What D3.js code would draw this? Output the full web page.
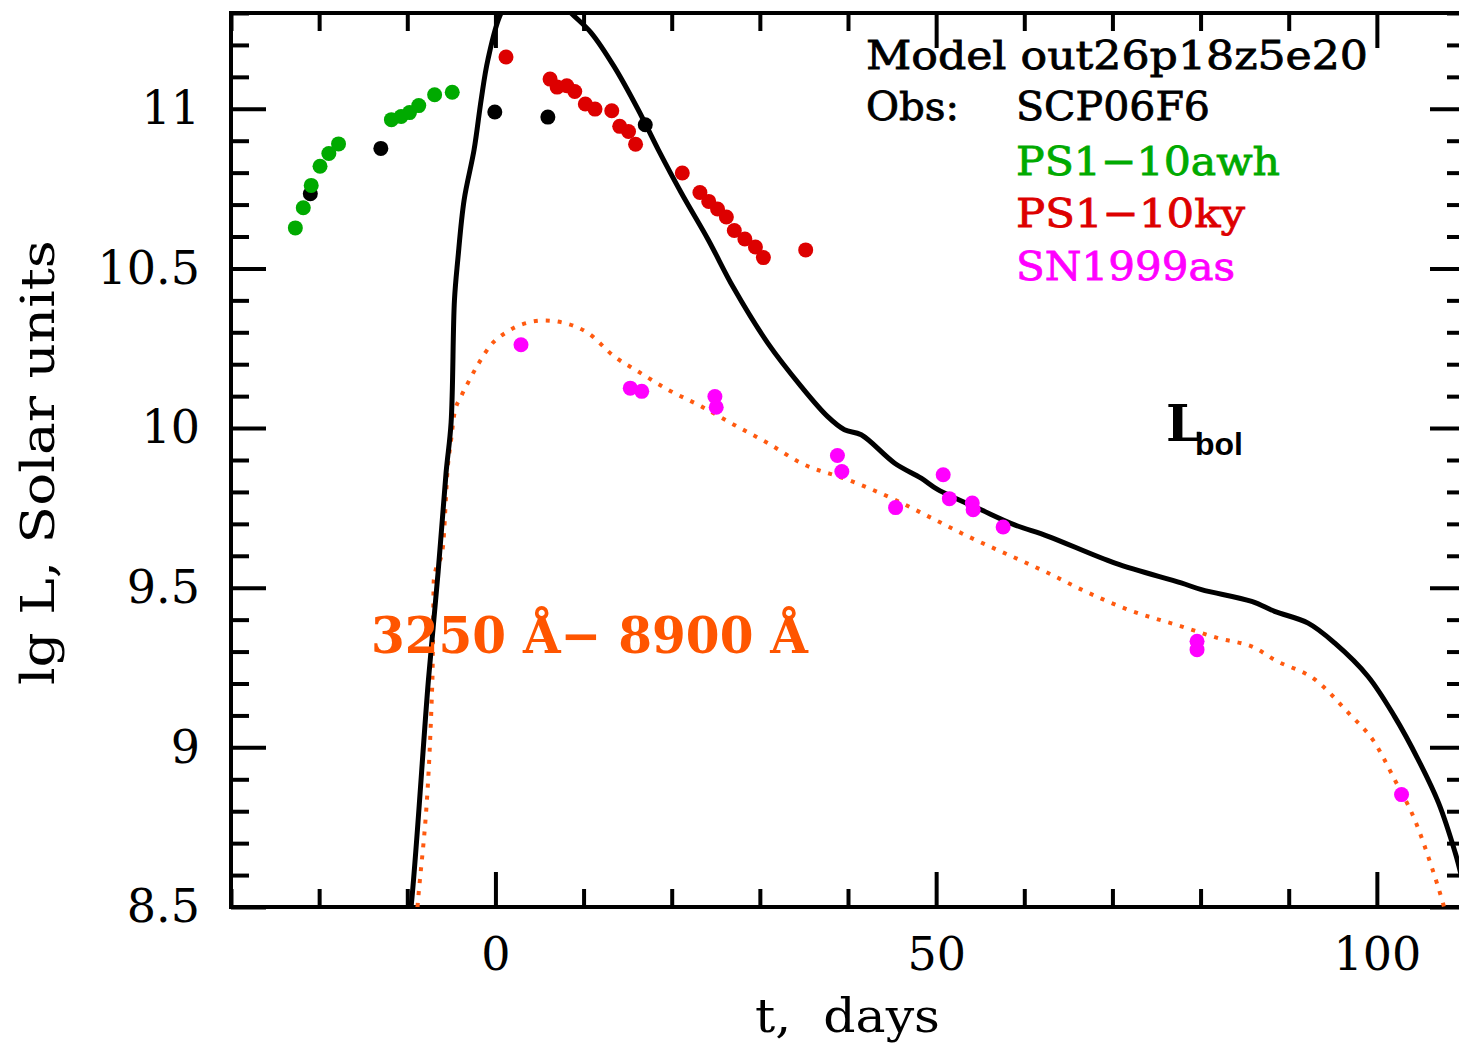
<!DOCTYPE html>
<html>
<head>
<meta charset="utf-8">
<script src="https://cdn.jsdelivr.net/npm/d3@7"></script>
<style>
  body { margin: 0; background: #fff; }
  svg { display: block; }
</style>
</head>
<body>
<div id="chart"></div>
<script>
// model Lbol (solid black)
var lbolT = [-10.5, -9.57, -7.6, -6.5, -5.6, -5.03, -4.65, -4.27, -3.55, -2.42, -1.62, -0.86, 0.65, 2.5, 4.5, 6.5,
  8.58, 10.86, 13.47, 16.2, 18.47, 21.08, 24.14, 27.0, 30.9, 34.7, 37.7, 39.6, 41.5, 45.3, 48.3, 50.2, 55.1, 58.9,
  62.7, 70.3, 77.8, 80.1, 85.8, 88.4, 92.2, 95.2, 99.0, 102.0, 104.7, 107.0, 108.9, 109.5, 111];
var lbolL = [8.3, 8.50, 9.212, 9.55, 9.86, 10.017, 10.40, 10.527, 10.715, 10.872, 11.028, 11.153, 11.30, 11.37, 11.39, 11.36,
  11.30, 11.238, 11.132, 10.997, 10.872, 10.737, 10.59, 10.44, 10.266, 10.13, 10.036, 9.995, 9.979, 9.89, 9.843, 9.807, 9.744, 9.697,
  9.661, 9.577, 9.515, 9.494, 9.457, 9.426, 9.389, 9.327, 9.222, 9.097, 8.961, 8.826, 8.669, 8.607, 8.42];

// model 3250-8900 A (orange dotted)
var bandT = [-9.3, -8.84, -7.15, -6.99, -5.97, -5.40, -5.03, -4.65, -3.89, -3.13, -2.0, -0.49, 1.41, 2.92, 5.56, 7.83, 10.49, 13.5,
  16.2, 19.6, 23.35, 27.1, 30.9, 34.7, 40.0, 44.9, 49.5, 53.6, 58.2, 62.7, 66.5, 71.8, 77.8, 82.0, 86.2, 88.4, 93.0, 96.8,
  99.8, 102.0, 104.3, 106.2, 107.5, 108.2];
var bandL = [8.35, 8.50, 9.212, 9.525, 9.625, 9.88, 9.963, 10.046, 10.099, 10.141, 10.198, 10.261, 10.303, 10.324, 10.337, 10.329, 10.298, 10.224,
  10.177, 10.12, 10.068, 10.01, 9.953, 9.89, 9.838, 9.781, 9.718, 9.661, 9.603, 9.546, 9.494, 9.431, 9.379, 9.342, 9.311, 9.274, 9.212, 9.107,
  9.013, 8.90, 8.773, 8.627, 8.512, 8.44];

// observations
var scpT = [-21.0, -13.0, -0.07, 5.95, 17.0];
var scpL = [10.734, 10.876, 10.99, 10.974, 10.95];

var awhT = [-22.7, -21.8, -20.9, -19.9, -18.9, -17.8, -11.8, -10.7, -9.75, -8.7, -6.9, -4.9];
var awhL = [10.627, 10.69, 10.76, 10.82, 10.86, 10.89, 10.966, 10.976, 10.988, 11.01, 11.044, 11.052];

var kyT = [1.2, 6.2, 7.0, 8.1, 9.0, 10.2, 11.3, 13.2, 14.1, 15.1, 15.9, 21.2, 23.2, 24.2, 25.2, 26.2, 27.1, 28.3, 29.5, 30.4, 35.2];
var kyL = [11.162, 11.093, 11.068, 11.072, 11.054, 11.015, 10.999, 10.994, 10.945, 10.929, 10.889, 10.799, 10.738, 10.71, 10.686, 10.661,
  10.619, 10.592, 10.567, 10.534, 10.558];

var sn99T = [2.9, 15.3, 16.6, 24.9, 25.05, 38.8, 39.3, 45.4, 50.8, 51.5, 54.1, 54.2, 57.6, 79.6, 79.6, 102.8];
var sn99L = [10.261, 10.125, 10.115, 10.099, 10.065, 9.914, 9.864, 9.751, 9.854, 9.779, 9.765, 9.744, 9.69, 9.332, 9.306, 8.852];

var xMajor = [0, 50, 100];
var yMajor = [8.5, 9, 9.5, 10, 10.5, 11];
var xLabels = ["0", "50", "100"];
var yLabels = ["8.5", "9", "9.5", "10", "10.5", "11"];

var W = 1459, H = 1043;
var pLeft = 231, pRight = 1465, pTop = 13, pBottom = 907;
var fontFam = "'DejaVu Serif', serif";

var x = d3.scaleLinear().domain([-30, 110]).range([pLeft, pRight]);
var y = d3.scaleLinear().domain([8.5, 11.3]).range([pBottom, pTop]);

var xMinor = d3.range(-30, 111, 10).filter(function(d) { return d % 50 !== 0; });
var yMinor = d3.range(85, 114).map(function(d) { return d / 10; }).filter(function(d) { return Math.round(d * 10) % 5 !== 0; });

var svg = d3.select("#chart").append("svg")
  .attr("width", W)
  .attr("height", H);

svg.append("defs").append("clipPath").attr("id", "plotclip")
  .append("rect")
  .attr("x", pLeft).attr("y", pTop)
  .attr("width", pRight - pLeft).attr("height", pBottom - pTop);

// axes: major + minor, on all four sides, ticks pointing inward
function styleAxis(g) {
  g.select(".domain").remove();
  g.selectAll(".tick line").attr("stroke", "#000").attr("stroke-width", 4);
  g.selectAll(".tick text").attr("fill", "#000").style("font-family", fontFam).style("font-size", "46px");
}

svg.append("g").attr("transform", "translate(0," + pBottom + ")")
  .call(d3.axisBottom(x).tickValues(xMajor).tickSize(-35).tickPadding(30)
    .tickFormat(function(d, i) { return xLabels[i]; }))
  .call(styleAxis);
svg.append("g").attr("transform", "translate(0," + pBottom + ")")
  .call(d3.axisBottom(x).tickValues(xMinor).tickSize(-18).tickFormat(""))
  .call(styleAxis);
svg.append("g").attr("transform", "translate(0," + pTop + ")")
  .call(d3.axisTop(x).tickValues(xMajor).tickSize(-35).tickFormat(""))
  .call(styleAxis);
svg.append("g").attr("transform", "translate(0," + pTop + ")")
  .call(d3.axisTop(x).tickValues(xMinor).tickSize(-18).tickFormat(""))
  .call(styleAxis);

svg.append("g").attr("transform", "translate(" + pLeft + ",0)")
  .call(d3.axisLeft(y).tickValues(yMajor).tickSize(-35).tickPadding(31)
    .tickFormat(function(d, i) { return yLabels[i]; }))
  .call(styleAxis);
svg.append("g").attr("transform", "translate(" + pLeft + ",0)")
  .call(d3.axisLeft(y).tickValues(yMinor).tickSize(-18).tickFormat(""))
  .call(styleAxis);
svg.append("g").attr("transform", "translate(" + pRight + ",0)")
  .call(d3.axisRight(y).tickValues(yMajor).tickSize(-35).tickFormat(""))
  .call(styleAxis);
svg.append("g").attr("transform", "translate(" + pRight + ",0)")
  .call(d3.axisRight(y).tickValues(yMinor).tickSize(-18).tickFormat(""))
  .call(styleAxis);

// frame
svg.append("rect")
  .attr("x", pLeft).attr("y", pTop)
  .attr("width", pRight - pLeft).attr("height", pBottom - pTop)
  .attr("fill", "none").attr("stroke", "#000").attr("stroke-width", 4);

// axis titles
svg.append("text")
  .attr("x", 755).attr("y", 1032)
  .attr("textLength", 185).attr("lengthAdjust", "spacingAndGlyphs")
  .style("font-family", fontFam).style("font-size", "46px")
  .attr("xml:space", "preserve")
  .text("t,  days");

svg.append("text")
  .attr("transform", "translate(54,685) rotate(-90)")
  .attr("textLength", 445).attr("lengthAdjust", "spacingAndGlyphs")
  .style("font-family", fontFam).style("font-size", "47px")
  .text("lg L, Solar units");

// model curves
var line = d3.line()
  .x(function(d) { return x(d[0]); })
  .y(function(d) { return y(d[1]); })
  .curve(d3.curveMonotoneX);

var plot = svg.append("g").attr("clip-path", "url(#plotclip)");

plot.append("path")
  .datum(d3.zip(bandT, bandL))
  .attr("d", line)
  .attr("fill", "none")
  .attr("stroke", "#ff5a10")
  .attr("stroke-width", 4)
  .attr("stroke-dasharray", "4,8");

plot.append("path")
  .datum(d3.zip(lbolT, lbolL))
  .attr("d", d3.line().x(function(d) { return x(d[0]); }).y(function(d) { return y(d[1]); }).curve(d3.curveCatmullRom))
  .attr("fill", "none")
  .attr("stroke", "#000")
  .attr("stroke-width", 5);

// observed points
function dots(ts, ls, color) {
  plot.append("g").selectAll("circle")
    .data(d3.zip(ts, ls))
    .enter().append("circle")
    .attr("cx", function(d) { return x(d[0]); })
    .attr("cy", function(d) { return y(d[1]); })
    .attr("r", 7.5)
    .attr("fill", color);
}
dots(scpT, scpL, "#000");
dots(awhT, awhL, "#00aa00");
dots(kyT, kyL, "#dd0000");
dots(sn99T, sn99L, "#ff00ff");

// legend
var legend = svg.append("g").style("font-family", fontFam).style("font-size", "40px");
function legText(tx, ty, txt, color, len) {
  legend.append("text")
    .attr("x", tx).attr("y", ty)
    .attr("fill", color).attr("stroke", color).attr("stroke-width", 0.8)
    .attr("textLength", len).attr("lengthAdjust", "spacingAndGlyphs")
    .attr("xml:space", "preserve")
    .text(txt);
}
legText(866, 69, "Model out26p18z5e20", "#000", 502);
legText(866, 120, "Obs:", "#000", 93);
legText(1016, 120, "SCP06F6", "#000", 194);
legText(1016, 175, "PS1\u221210awh", "#00aa00", 264);
legText(1016, 227, "PS1\u221210ky", "#dd0000", 229);
legText(1016, 280, "SN1999as", "#ff00ff", 219);

// band label
svg.append("text")
  .attr("x", 371).attr("y", 653)
  .attr("fill", "#ff5500")
  .attr("textLength", 437).attr("lengthAdjust", "spacingAndGlyphs")
  .style("font-family", fontFam).style("font-size", "50px").style("font-weight", "bold")
  .attr("xml:space", "preserve")
  .text("3250 \u00c5\u2212 8900 \u00c5");

// L_bol label
svg.append("text")
  .attr("x", 1166).attr("y", 441)
  .style("font-family", fontFam).style("font-size", "50px").style("font-weight", "bold")
  .text("L");
svg.append("text")
  .attr("x", 1195).attr("y", 455)
  .style("font-family", "'Liberation Sans', sans-serif").style("font-size", "32px").style("font-weight", "bold")
  .text("bol");
</script>
</body>
</html>
